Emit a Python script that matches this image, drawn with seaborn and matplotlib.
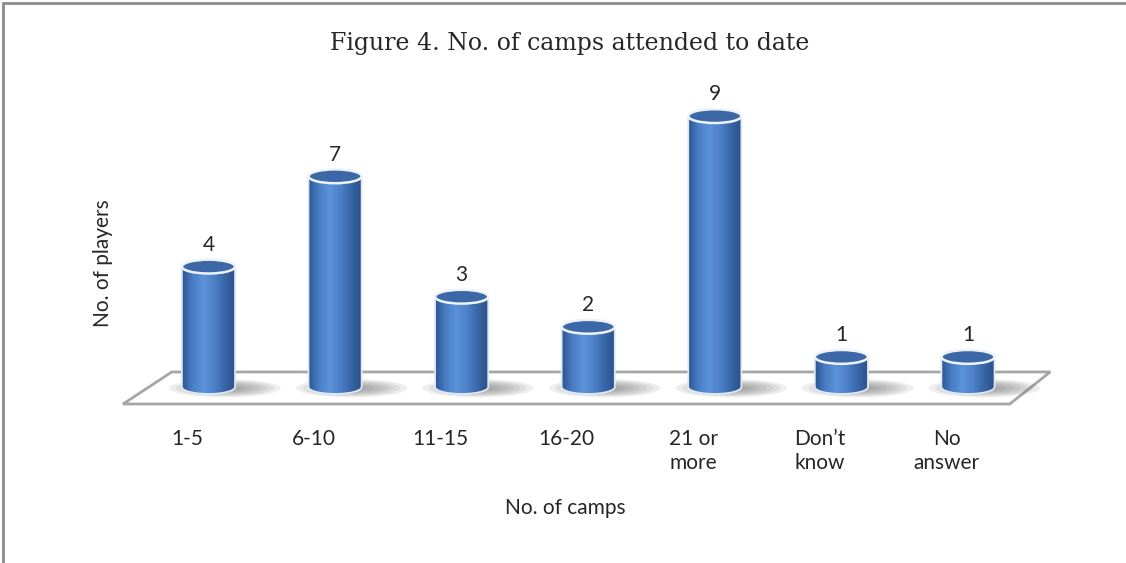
import numpy as np
import pandas as pd
import seaborn as sns
import matplotlib.pyplot as plt
from matplotlib.patches import Ellipse, Polygon, PathPatch
from matplotlib.path import Path
from matplotlib.colors import LinearSegmentedColormap
from matplotlib.lines import Line2D

# data
categories = ["1-5", "6-10", "11-15", "16-20", "21 or\nmore", "Don\u2019t\nknow", "No\nanswer"]
players = [4, 7, 3, 2, 9, 1, 1]

df = pd.DataFrame({"camps": categories, "players": players})

sns.set_style("white")
plt.rcParams["font.family"] = ["Lato", "DejaVu Sans"]

fig = plt.figure(figsize=(11.26, 5.63), dpi=100)
ax = fig.add_axes([0.0896, 0.2645, 0.8656, 0.6095])

bar_w = 0.42
sns.barplot(data=df, x="camps", y="players", width=bar_w, color="#4a7cc4", ax=ax, zorder=3)

ax.set_xlim(-0.85, 6.85)
ax.set_ylim(-0.9, 10.5)

# floor of the 3d chart
n = len(categories)
floor = Polygon([(-0.675, -0.565), (n - 1 + 0.33, -0.565), (n - 1 + 0.65, 0.5), (-0.29, 0.5)],
                closed=True, facecolor="white", edgecolor="#a6a6a6", lw=2, zorder=1)
ax.add_patch(floor)

cyl = LinearSegmentedColormap.from_list(
    "cyl", ["#2b5590", "#4a7fc6", "#5b92d9", "#4d80c8", "#3766a8", "#2a4f86"])
grad = np.linspace(0, 1, 256).reshape(1, -1)
ry = 0.23

for i, p in enumerate(ax.patches[:n]):
    x0 = p.get_x()
    w = p.get_width()
    h = p.get_height()
    cx = x0 + w / 2
    p.set_visible(False)

    # soft shadow on the floor
    for k in range(7):
        sc = 1 - k * 0.12
        ax.add_patch(Ellipse((cx + 0.13, -0.04), w * 2.1 * sc, 0.6 * sc,
                             facecolor="#5f5f5f", edgecolor="none", alpha=0.1, zorder=2))

    t = np.linspace(np.pi, 2 * np.pi, 60)
    verts = [(x0, h), (x0, 0)]
    verts += list(zip(cx + w / 2 * np.cos(t), ry * np.sin(t)))
    verts += [(x0 + w, 0), (x0 + w, h), (x0, h)]
    body = PathPatch(Path(verts, closed=True), facecolor="none", edgecolor="#dfe8f5",
                     lw=1.3, transform=ax.transData, zorder=4)
    im = ax.imshow(grad, extent=(x0, x0 + w, -ry, h), aspect="auto", cmap=cyl, zorder=3)
    ax.add_patch(body)
    im.set_clip_path(body)

    ax.add_patch(Ellipse((cx, h), w, 2 * ry, facecolor="#3c68a8", edgecolor="#eef3fa",
                         lw=1.8, zorder=5))
    ax.text(cx, h + 0.72, str(players[i]), ha="center", va="center", fontsize=15, zorder=6)

ax.set_xlim(-0.85, 6.85)
ax.set_ylim(-0.9, 10.5)
ax.set_yticks([])
# category labels sit on the front edge of the floor, a bit left of the bars
ax.set_xticks(np.arange(n) - 0.17, categories)
ax.tick_params(axis="x", length=0, pad=11, labelsize=15)
for s in ax.spines.values():
    s.set_visible(False)

ax.set_xlabel("No. of camps", fontsize=15)
ax.xaxis.set_label_coords(0.477, -0.245)
ax.set_ylabel("No. of players", fontsize=15)
ax.yaxis.set_label_coords(0.0124, 0.44)

fig.text(0.506, 0.911, "Figure 4. No. of camps attended to date", ha="center", va="baseline",
         fontsize=17, family="DejaVu Serif")

# page border on top and left
fig.add_artist(Line2D([0.003, 1], [0.994, 0.994], color="#8c8c8c", lw=2, transform=fig.transFigure))
fig.add_artist(Line2D([0.003, 0.003], [0, 0.994], color="#8c8c8c", lw=2, transform=fig.transFigure))

fig.savefig("out.png", dpi=100)
